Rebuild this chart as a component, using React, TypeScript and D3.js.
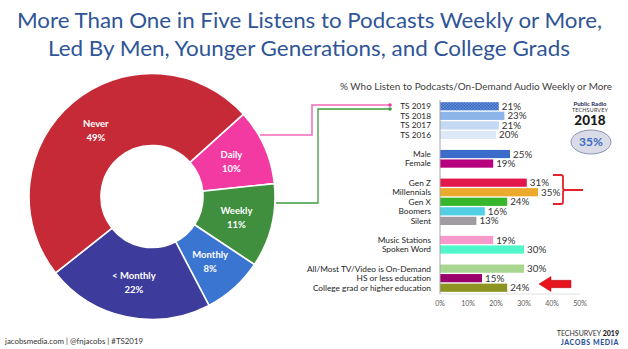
import React from "react";
import * as d3 from "d3";

const donutLabels = ["Daily", "Weekly", "Monthly", "< Monthly", "Never"];
const donutValues = [10, 11, 8, 22, 49];
const donutColors = ["#F23AA2", "#3F8F3F", "#3A76D1", "#3D3B9C", "#C62A36"];

const barCategories = [
  "TS 2019", "TS 2018", "TS 2017", "TS 2016",
  "Male", "Female",
  "Gen Z", "Millennials", "Gen X", "Boomers", "Silent",
  "Music Stations", "Spoken Word",
  "All/Most TV/Video is On-Demand", "HS or less education", "College grad or higher education",
];
const barValues = [21, 23, 21, 20, 25, 19, 31, 35, 24, 16, 13, 19, 30, 30, 15, 24];
const barGroups = [0, 0, 0, 0, 1, 1, 2, 2, 2, 2, 2, 3, 3, 4, 4, 4];
const barColors = [
  "url(#ts2019)", "#8DB5EA", "#C3D8F3", "#DDE9F8",
  "#3C6CC9", "#B8007F",
  "#E2184C", "#ECAA2C", "#37B52B", "#52CFE2", "#A09CA2",
  "#F799CB", "#4FF7CA",
  "#A9D690", "#9A006B", "#8D9422",
];
const xTicks = [0, 10, 20, 30, 40, 50];

const titleLines = [
  "More Than One in Five Listens to Podcasts Weekly or More,",
  "Led By Men, Younger Generations, and College Grads",
];

const FONT = "Lato, 'Open Sans', sans-serif";

export default function App() {
  const W = 628, H = 349;
  const cx = 152, cy = 196.5, rO = 123, rI = 51;
  const startA = (48 * Math.PI) / 180;
  const pie = d3.pie<number>().sort(null).value((d) => d).startAngle(startA).endAngle(startA + 2 * Math.PI);
  const arcs = pie(donutValues);
  const arc = d3.arc<d3.PieArcDatum<number>>().innerRadius(rI).outerRadius(rO);

  const slots = barCategories.map((_, i) => i + barGroups[i]);
  const y = d3.scaleBand<number>().domain(d3.range(20)).range([101.5, 292.5]).paddingInner(0.14).paddingOuter(0.07);
  const x = d3.scaleLinear().domain([0, 50]).range([440, 580]);

  const bracketPath = (() => {
    const top = 175, bot = 204, mid = 190, xl = 553, xv = 563, xr = 583;
    return `M${xl},${top} L${xv - 2},${top} Q${xv},${top} ${xv},${top + 2} L${xv},${mid - 2} Q${xv},${mid} ${xv + 2},${mid} L${xr},${mid} M${xv + 2},${mid} Q${xv},${mid} ${xv},${mid + 2} L${xv},${bot - 2} Q${xv},${bot} ${xv - 2},${bot} L${xl},${bot}`;
  })();

  return (
    <svg width={W} height={H} style={{ position: "absolute", left: 0, top: 0, background: "#fff" }} fontFamily={FONT}>
      <defs>
        <pattern id="ts2019" width="3" height="3" patternUnits="userSpaceOnUse">
          <rect width="3" height="3" fill="#2F62C0" />
          <rect x="0" y="0" width="1.5" height="1.5" fill="#6E95DA" />
          <rect x="1.5" y="1.5" width="1.5" height="1.5" fill="#6E95DA" />
        </pattern>
      </defs>

      {titleLines.map((t, i) => (
        <text key={i} x={i === 0 ? 17 : 48} y={i === 0 ? 28 : 56} fontSize={21} fill="#2F5597"
          textLength={i === 0 ? 585 : 522} lengthAdjust="spacingAndGlyphs">{t}</text>
      ))}

      {/* donut */}
      <g transform={`translate(${cx},${cy})`}>
        {arcs.map((a, i) => (
          <path key={i} d={arc(a) || ""} fill={donutColors[i]} stroke="#fff" strokeWidth={1.6} />
        ))}
        {arcs.map((a, i) => {
          const [lx, ly] = arc.centroid(a);
          return (
            <text key={"l" + i} x={lx} y={ly} textAnchor="middle" fill="#fff" fontSize={9.5} fontWeight="bold">
              <tspan x={lx} dy={-3}>{donutLabels[i]}</tspan>
              <tspan x={lx} dy={14}>{donutValues[i]}%</tspan>
            </text>
          );
        })}
      </g>

      {/* connectors */}
      <polyline points="260,135 312,135 312,105 390,105" fill="none" stroke="#F46BB8" strokeWidth={1.5} />
      <circle cx={390} cy={105} r={1.8} fill="#F23AA2" />
      <polyline points="276,203 318,203 318,109 390,109" fill="none" stroke="#3F9A3F" strokeWidth={1.3} />
      <circle cx={390} cy={109} r={1.8} fill="#3F9A3F" />

      {/* bar chart */}
      <text x={340} y={90} fontSize={9.5} fill="#404040" textLength={272} lengthAdjust="spacingAndGlyphs">% Who Listen to Podcasts/On-Demand Audio Weekly or More</text>
      {barCategories.map((c, i) => {
        const yy = y(slots[i])!;
        const bh = y.bandwidth();
        return (
          <g key={c}>
            <rect x={x(0)} y={yy} width={x(barValues[i]) - x(0)} height={bh} fill={barColors[i]} />
            <text x={431} y={yy + bh / 2} dy="0.35em" textAnchor="end" fontSize={8.3} fill="#262626">{c}</text>
            <text x={x(barValues[i]) + 3} y={yy + bh / 2} dy="0.36em" fontSize={9.8} fill="#333">{barValues[i]}%</text>
          </g>
        );
      })}
      <line x1={440} x2={440} y1={100} y2={294} stroke="#A6A6A6" strokeWidth={1} />
      <line x1={440} x2={580} y1={294} y2={294} stroke="#D9D9D9" strokeWidth={0.8} />
      {xTicks.map((t) => (
        <text key={t} x={x(t)} y={306} textAnchor="middle" fontSize={7} fill="#595959">{t}%</text>
      ))}

      {/* bracket & arrow */}
      <path d={bracketPath} fill="none" stroke="#E3202B" strokeWidth={1.8} />
      <path d="M539,284 L551,276.5 L551,280.3 L571,280.3 L571,287.7 L551,287.7 L551,291.5 Z" fill="#E8141E" stroke="#B00010" strokeWidth={0.5} />

      {/* logo 2018 */}
      <text x={590} y={106} textAnchor="middle" fontSize={6} fontWeight="bold" fill="#1F2A5C">Public Radio</text>
      <text x={590} y={111.5} textAnchor="middle" fontSize={5.4} fill="#333" letterSpacing={0.2}>TECHSURVEY</text>
      <text x={590} y={125} textAnchor="middle" fontSize={13.5} fontWeight="900" fill="#1A1A1A">2018</text>
      <ellipse cx={591} cy={142} rx={20} ry={12} fill="#D9DCE6" stroke="#8A93B5" strokeWidth={1} />
      <text x={591} y={142} dy="0.36em" textAnchor="middle" fontSize={12} fontWeight="bold" fill="#3B6BC2">35%</text>

      {/* footer */}
      <text x={5} y={344} fontSize={7.2} fill="#333" textLength={138} lengthAdjust="spacingAndGlyphs">jacobsmedia.com  |  @fnjacobs  |  #TS2019</text>
      <text x={619} y={336} textAnchor="end" fontSize={7} fill="#333">
        TECHSURVEY <tspan fontWeight="900" fill="#1A1A1A">2019</tspan>
      </text>
      <text x={619} y={345} textAnchor="end" fontSize={7} fontWeight="900" fill="#2E5597" letterSpacing={0.6}>JACOBS MEDIA</text>
    </svg>
  );
}
